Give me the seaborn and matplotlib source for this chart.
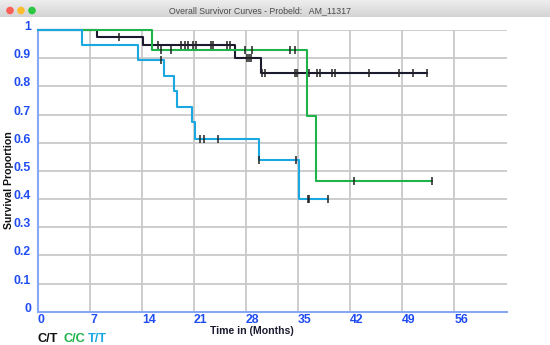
import numpy as np
import pandas as pd
import matplotlib
matplotlib.use('Agg')
import matplotlib.pyplot as plt
import seaborn as sns

# Kaplan-Meier step data (months, survival proportion)
ct_times = [0, 8.0, 14.1, 26.5, 30.0, 52.3]
ct_surv = [1.0, 0.974, 0.946, 0.900, 0.846, 0.846]
ct_censor = [10.9, 16.1, 19.3, 19.8, 20.2, 20.9, 21.2, 23.3, 23.6, 25.4, 25.8,
             28.1, 28.4, 28.7, 30.2, 30.55, 34.6, 34.9, 36.4, 37.5, 37.9,
             39.6, 40.0, 44.6, 48.6, 50.4, 52.3]

cc_times = [0, 15.4, 36.2, 37.4, 53.0]
cc_surv = [1.0, 0.929, 0.696, 0.464, 0.464]
cc_censor = [16.6, 17.9, 27.8, 28.8, 33.9, 34.6, 42.5, 53.0]

tt_times = [0, 5.9, 13.4, 17.0, 18.3, 18.7, 20.7, 21.1, 29.7, 35.1, 39.0]
tt_surv = [1.0, 0.948, 0.894, 0.838, 0.785, 0.726, 0.673, 0.614, 0.538, 0.400, 0.400]
tt_censor = [16.5, 21.8, 22.4, 24.2, 29.7, 34.7, 36.3, 36.5, 39.0]

groups = ['C/T', 'C/C', 'T/T']
colors = {'C/T': '#1b1b2f', 'C/C': '#20b34a', 'T/T': '#1aa8e2'}
x_ticks = [0, 7, 14, 21, 28, 35, 42, 49, 56]
y_ticks = [0, 0.1, 0.2, 0.3, 0.4, 0.5, 0.6, 0.7, 0.8, 0.9, 1.0]
y_labels = ['0', '0.1', '0.2', '0.3', '0.4', '0.5', '0.6', '0.7', '0.8', '0.9', '1']

W, H = 550, 345
BLUE = '#1f4cf2'

sns.set_style('white')
plt.rcParams['font.family'] = ['Liberation Sans', 'DejaVu Sans']

fig = plt.figure(figsize=(W / 100, H / 100), dpi=100)
fig.patch.set_facecolor('white')


def step_value(times, surv, t):
    i = np.searchsorted(times, t, side='right') - 1
    return surv[max(i, 0)]


curves = {
    'C/T': (ct_times, ct_surv, ct_censor),
    'C/C': (cc_times, cc_surv, cc_censor),
    'T/T': (tt_times, tt_surv, tt_censor),
}

ax = fig.add_axes([38 / W, 1 - 311.7 / H, (507 - 38) / W, (311.7 - 30) / H])

# grid
for xv in x_ticks[1:]:
    ax.axvline(xv, color='#c9c9c9', lw=1.3, zorder=0)
for yv in y_ticks[1:]:
    ax.axhline(yv, color='#c9c9c9', lw=1.3, zorder=0)

# draw order: C/T under C/C under T/T like the reference
for g in ['C/T', 'C/C', 'T/T']:
    times, surv, cens = curves[g]
    df = pd.DataFrame({'t': times, 's': surv})
    sns.lineplot(data=df, x='t', y='s', ax=ax, color=colors[g], lw=1.5,
                 drawstyle='steps-post', estimator=None, sort=False,
                 clip_on=False, zorder=3)

for g in ['C/T', 'C/C', 'T/T']:
    times, surv, cens = curves[g]
    cdf = pd.DataFrame({'t': cens, 's': [step_value(times, surv, c) for c in cens]})
    sns.scatterplot(data=cdf, x='t', y='s', ax=ax, marker='|', s=40,
                    linewidth=1.1, color='#222222', zorder=4, clip_on=False)

ax.set_xlim(0, 63.1)
ax.set_ylim(0, 1)
ax.set_xticks(x_ticks)
ax.set_xticklabels([str(v) for v in x_ticks], ha='left')
ax.set_yticks(y_ticks)
ax.set_yticklabels(y_labels, va='baseline')
ax.tick_params(axis='both', length=0, labelcolor=BLUE, labelsize=8.8)
ax.tick_params(axis='x', pad=2)
ax.tick_params(axis='y', pad=5)
for lab in ax.get_xticklabels() + ax.get_yticklabels():
    lab.set_fontweight('bold')
ax.set_xlabel('')
ax.set_ylabel('')
for side in ['top', 'right']:
    ax.spines[side].set_visible(False)
for side in ['left', 'bottom']:
    ax.spines[side].set_color('#86a8f7')
    ax.spines[side].set_linewidth(1.5)

# axis titles
fig.text(252 / W, 1 - 330.5 / H, 'Time in (Months)', ha='center', va='center',
         fontsize=7.6, fontweight='bold', color='#1b1b2f')
fig.text(9 / W, 1 - 180 / H, 'Survival Proportion', ha='center', va='center',
         rotation=90, fontsize=7.6, fontweight='bold', color='#111111')

# group legend as coloured text
xpos = [38, 64, 88]
for g, xp in zip(groups, xpos):
    fig.text(xp / W, 1 - 341.5 / H, g, ha='left', va='baseline', fontsize=9.2,
             fontweight='bold', color=colors[g] if g != 'C/T' else '#111111')

# window title bar
bar = fig.add_axes([0, 1 - 17 / H, 1, 17 / H])
grad = np.linspace(0.93, 0.83, 20).reshape(-1, 1)
bar.imshow(grad, aspect='auto', cmap='gray', vmin=0, vmax=1,
           extent=[0, W, 0, 17], origin='upper')
bar.set_xlim(0, W)
bar.set_ylim(0, 17)
bar.axis('off')
bar.axhline(0.3, color='#b5b5b5', lw=0.8)
bar.scatter([10, 21, 32], [6.5, 6.5, 6.5], s=30,
            c=['#fc5f57', '#fdbc2e', '#2ac840'], edgecolors='none', zorder=3)
bar.text(260, 6.5, 'Overall Survivor Curves - Probeld:   AM_11317', ha='center',
         va='center', fontsize=6.3, color='#4a4a4a')

fig.savefig('out.png', dpi=100)
